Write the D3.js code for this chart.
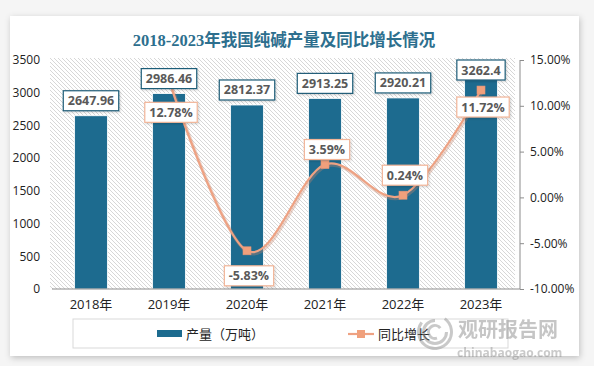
<!DOCTYPE html>
<html>
<head>
<meta charset="utf-8">
<script src="https://cdn.jsdelivr.net/npm/d3@7/dist/d3.min.js"></script>
<style>
  body{margin:0;background:#f5f5f5;}
  svg{display:block;}
  text{font-family:"Open Sans","Noto Sans CJK SC",sans-serif;}
</style>
</head>
<body>
<div id="chart"></div>
<script>
// data
const years = ['2018年','2019年','2020年','2021年','2022年','2023年'];
const output = [2647.96, 2986.46, 2812.37, 2913.25, 2920.21, 3262.4];
const growth = [null, 12.78, -5.83, 3.59, 0.24, 11.72];
const leftTicks = [0,500,1000,1500,2000,2500,3000,3500];
const rightTicks = [-10,-5,0,5,10,15];

// where the growth labels sit relative to their point (layout only)
const growthLabelDy = [0, 32, 25, -15, -20, 17];

const W = 594, H = 366;
const m = {left:52, right:74, top:60, bottom:77};
const barColor = '#1d6b8f';
const lineColor = '#eea283';

const svg = d3.select('#chart').append('svg')
  .attr('width', W).attr('height', H);

const defs = svg.append('defs');
const pat = defs.append('pattern')
  .attr('id','hatch').attr('patternUnits','userSpaceOnUse')
  .attr('width',4).attr('height',4);
pat.append('rect').attr('width',4).attr('height',4).attr('fill','#fff');
pat.append('path').attr('d','M-1,-1L5,5M-1,3L1,5M3,-1L5,1')
  .attr('stroke','#cdcdcd').attr('stroke-width',0.8);

const sh = defs.append('filter').attr('id','shadow')
  .attr('x','-5%').attr('y','-5%').attr('width','110%').attr('height','110%');
sh.append('feDropShadow').attr('dx',1).attr('dy',2).attr('stdDeviation',3)
  .attr('flood-color','#000').attr('flood-opacity',0.22);

const sh2 = defs.append('filter').attr('id','boxshadow')
  .attr('x','-20%').attr('y','-30%').attr('width','140%').attr('height','160%');
sh2.append('feDropShadow').attr('dx',1).attr('dy',1).attr('stdDeviation',1)
  .attr('flood-color','#000').attr('flood-opacity',0.18);

// card
svg.append('rect').attr('x',10).attr('y',16).attr('width',569).attr('height',340)
  .attr('fill','#fff').attr('filter','url(#shadow)');

// title
svg.append('text').attr('x',284).attr('y',46).attr('text-anchor','middle')
  .style('font-family','"Liberation Serif","Noto Sans CJK SC",serif')
  .style('font-size','16.5px').style('font-weight','bold')
  .attr('fill','#2d6f8e')
  .text('2018-2023年我国纯碱产量及同比增长情况');

const x = d3.scaleBand().domain(years).range([m.left, W - m.right]).paddingInner(0.58).paddingOuter(0.29);
const y = d3.scaleLinear().domain([0,3500]).range([H - m.bottom, m.top]);
const y2 = d3.scaleLinear().domain([-10,15]).range([H - m.bottom, m.top]);

// hatched plot background
svg.append('rect').attr('x',m.left - 2).attr('y',m.top - 2)
  .attr('width',W - m.right - m.left - 3).attr('height',H - m.bottom - m.top + 2)
  .attr('fill','url(#hatch)');

// left axis
const gl = svg.append('g').attr('transform',`translate(${m.left - 12},0)`)
  .call(d3.axisLeft(y).tickValues(leftTicks).tickSize(0).tickPadding(0)
    .tickFormat(d3.format('d')));
gl.select('.domain').remove();
gl.selectAll('text').style('font-size','12px').attr('fill','#222')
  .style('font-family','"Open Sans",sans-serif');

// right axis
const gr = svg.append('g').attr('transform',`translate(${W - m.right},0)`)
  .call(d3.axisRight(y2).tickValues(rightTicks).tickSize(4).tickPadding(6)
    .tickFormat(d => d.toFixed(2) + '%'));
gr.select('.domain').attr('stroke','#8c8c8c').attr('d',`M0,${m.top}V${H - m.bottom}`);
gr.selectAll('line').attr('stroke','#8c8c8c');
gr.selectAll('text').style('font-size','12px').attr('fill','#222');

// bars
svg.selectAll('.bar').data(output).enter().append('rect')
  .attr('class','bar')
  .attr('x',(d,i) => x(years[i]))
  .attr('y',d => y(d))
  .attr('width',x.bandwidth())
  .attr('height',d => y(0) - y(d))
  .attr('fill',barColor)
  .attr('stroke','#fff').attr('stroke-width',0.8);

// x axis
const gx = svg.append('g').attr('transform',`translate(0,${H - m.bottom})`)
  .call(d3.axisBottom(x).tickSize(0).tickPadding(11));
gx.select('.domain').attr('stroke','#8c8c8c').attr('d',`M${m.left},0H${W - m.right}`);
gx.selectAll('text').style('font-size','13px').attr('fill','#222');

// growth line
const pts = growth.map((g,i) => ({g, i})).filter(d => d.g !== null);
const line = d3.line()
  .x(d => x(years[d.i]) + x.bandwidth()/2)
  .y(d => y2(d.g))
  .curve(d3.curveCardinal.tension(0));

svg.append('path').datum(pts).attr('d',line)
  .attr('fill','none').attr('stroke','#c9876c').attr('stroke-opacity',0.35)
  .attr('stroke-width',3.5).attr('transform','translate(1,1.5)');
svg.append('path').datum(pts).attr('d',line)
  .attr('fill','none').attr('stroke',lineColor).attr('stroke-width',2.2);

svg.selectAll('.mk').data(pts).enter().append('rect')
  .attr('class','mk')
  .attr('x',d => x(years[d.i]) + x.bandwidth()/2 - 4)
  .attr('y',d => y2(d.g) - 4)
  .attr('width',8).attr('height',8)
  .attr('fill','#f0a07c').attr('stroke','#e69577').attr('stroke-width',0.6);

// labelled box helper
function boxLabel(cx, cy, txt, border){
  const g = svg.append('g');
  const r = g.append('rect');
  const t = g.append('text').attr('x',cx).attr('y',cy).attr('dy','0.36em')
    .attr('text-anchor','middle')
    .style('font-size','12.5px').style('font-weight','bold')
    .attr('fill','#595959').text(txt);
  const w = t.node().getComputedTextLength() + 9;
  r.attr('x',cx - w/2).attr('y',cy - 10).attr('width',w).attr('height',20)
    .attr('fill','#fff').attr('stroke',border).attr('stroke-width',1.2)
    .attr('filter','url(#boxshadow)');
}

// growth labels
pts.forEach(d => {
  const cx = x(years[d.i]) + x.bandwidth()/2 + 2;
  boxLabel(cx, y2(d.g) + growthLabelDy[d.i], d.g.toFixed(2) + '%', '#f2b598');
});

// bar labels (drawn last, they cover the 2019 marker as in the reference)
output.forEach((v,i) => {
  const cx = x(years[i]) + x.bandwidth()/2;
  const cy = Math.max(y(v) - 15, m.top + 10);
  boxLabel(cx, cy, String(v), '#1f5d78');
});

// legend
svg.append('rect').attr('x',73).attr('y',319).attr('width',435).attr('height',29)
  .attr('fill','#fff').attr('stroke','#d9d9d9');
svg.append('rect').attr('x',157).attr('y',330).attr('width',25).attr('height',7)
  .attr('fill',barColor);
svg.append('text').attr('x',186).attr('y',339).style('font-size','13px')
  .style('font-family','"Noto Sans CJK SC",sans-serif').attr('fill','#222')
  .text('产量（万吨）');
svg.append('line').attr('x1',348).attr('x2',374).attr('y1',334).attr('y2',334)
  .attr('stroke',lineColor).attr('stroke-width',2.2);
svg.append('rect').attr('x',357).attr('y',330).attr('width',8).attr('height',8)
  .attr('fill','#f0a07c');
svg.append('text').attr('x',378).attr('y',339).style('font-size','13px')
  .style('font-family','"Noto Sans CJK SC",sans-serif').attr('fill','#222')
  .text('同比增长');

// watermark
const wm = svg.append('g').attr('opacity',0.45);
const logo = wm.append('g').attr('transform','translate(435,332)');
[[18,0.2,1.7],[13,0.5,2.0],[8,0.9,2.3]].forEach(([r,a0,a1]) => {
  logo.append('path')
    .attr('d',d3.arc().innerRadius(r - 3).outerRadius(r).startAngle(a0 * Math.PI).endAngle(a1 * Math.PI)())
    .attr('fill','#8a8a8a');
});
wm.append('text').attr('x',458).attr('y',337)
  .style('font-family','"Noto Sans CJK SC",sans-serif').style('font-weight','bold')
  .style('font-size','20px').attr('fill','#7f7f7f').text('观研报告网');
wm.append('text').attr('x',457).attr('y',357)
  .style('font-family','"Open Sans",sans-serif').style('font-weight','bold')
  .style('font-size','12px').attr('fill','#8a8a8a').text('chinabaogao.com');
</script>
</body>
</html>
